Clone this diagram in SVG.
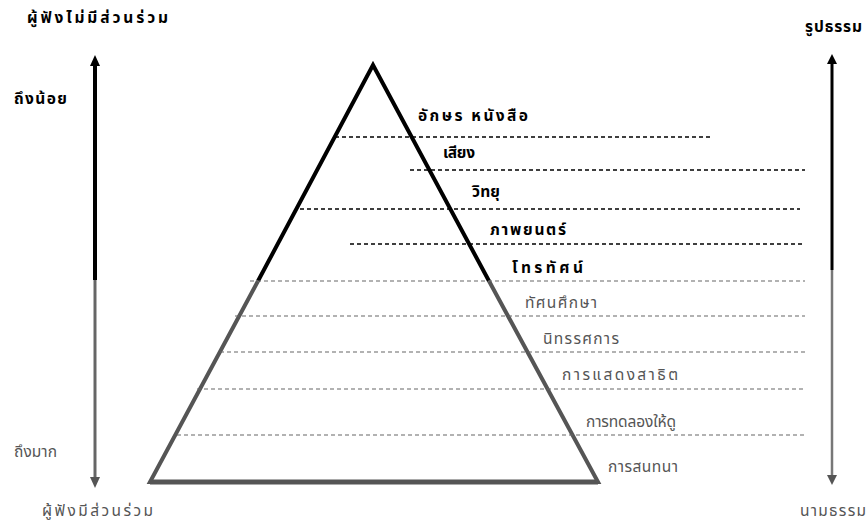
<svg xmlns="http://www.w3.org/2000/svg" width="868" height="525" viewBox="0 0 868 525">
<defs>
<style>
.t{font-family:"Noto Sans Thai","Noto Sans","DejaVu Sans","Liberation Sans",sans-serif;font-size:15.5px;}
.b{fill:#000;font-weight:bold;}
.g{fill:#555;}
.dk{stroke:#000;stroke-width:1.3;stroke-dasharray:4 3;fill:none;}
.dg{stroke:#666;stroke-width:1.2;stroke-dasharray:4 3;fill:none;}
</style>
</defs>
<rect width="868" height="525" fill="#fff"/>
<g id="connectors">
<line x1="95" y1="64" x2="95" y2="280" stroke="#000" stroke-width="4"/>
<polygon points="90,66 95,55 100,66" fill="#000"/>
<line x1="95" y1="280" x2="95" y2="478" stroke="#666" stroke-width="3"/>
<polygon points="90,477 95,488 100,477" fill="#555"/>
<line x1="832" y1="62" x2="832" y2="270" stroke="#000" stroke-width="3"/>
<polygon points="827,64 832,54 837,64" fill="#000"/>
<line x1="832" y1="270" x2="832" y2="476" stroke="#777" stroke-width="2.5"/>
<polygon points="827,475 832,485 837,475" fill="#555"/>
</g>
<g id="pyramid">
<polyline points="258,281 373,65 489,281" fill="none" stroke="#000" stroke-width="4" stroke-linejoin="miter"/>
<polyline points="258,281 150,482 598,482 489,281" fill="none" stroke="#555" stroke-width="4"/>
<line x1="150" y1="482" x2="598" y2="482" stroke="#555" stroke-width="5"/>
</g>
<g id="levels">
<line class="dk" x1="335" y1="137" x2="712" y2="137"/>
<line class="dk" x1="410" y1="170" x2="805" y2="170"/>
<line class="dk" x1="300" y1="209" x2="800" y2="209"/>
<line class="dk" x1="350" y1="244" x2="805" y2="244"/>
<line class="dg" x1="250" y1="281" x2="805" y2="281"/>
<line class="dg" x1="235" y1="316" x2="805" y2="316"/>
<line class="dg" x1="220" y1="352" x2="805" y2="352"/>
<line class="dg" x1="197" y1="389" x2="805" y2="389"/>
<line class="dg" x1="177" y1="435" x2="805" y2="435"/>
</g>
<g id="level-labels">
<text class="t b" x="418" y="121" textLength="110" lengthAdjust="spacing">อักษร หนังสือ</text>
<text class="t b" x="443" y="158" textLength="32" lengthAdjust="spacing">เสียง</text>
<text class="t b" x="472" y="197" textLength="28" lengthAdjust="spacing">วิทยุ</text>
<text class="t b" x="490" y="235" textLength="76" lengthAdjust="spacing">ภาพยนตร์</text>
<text class="t b" x="512" y="273" textLength="71" lengthAdjust="spacing">โทรทัศน์</text>
<text class="t g" x="525" y="308" textLength="72" lengthAdjust="spacing">ทัศนศึกษา</text>
<text class="t g" x="543" y="344" textLength="76" lengthAdjust="spacing">นิทรรศการ</text>
<text class="t g" x="562" y="380" textLength="116" lengthAdjust="spacing">การแสดงสาธิต</text>
<text class="t g" x="586" y="427" textLength="90" lengthAdjust="spacing">การทดลองให้ดู</text>
<text class="t g" x="608" y="472" textLength="70" lengthAdjust="spacing">การสนทนา</text>
</g>
<g id="side-labels">
<text class="t b" x="27" y="23" textLength="141" lengthAdjust="spacing">ผู้ฟังไม่มีส่วนร่วม</text>
<text class="t b" x="14" y="104" textLength="53" lengthAdjust="spacing">ถึงน้อย</text>
<text class="t g" x="14" y="457" textLength="43" lengthAdjust="spacing">ถึงมาก</text>
<text class="t g" x="42" y="516" textLength="111" lengthAdjust="spacing">ผู้ฟังมีส่วนร่วม</text>
<text class="t b" x="805" y="32" textLength="57" lengthAdjust="spacing">รูปธรรม</text>
<text class="t g" x="800" y="516" textLength="66" lengthAdjust="spacing">นามธรรม</text>
</g>
</svg>
